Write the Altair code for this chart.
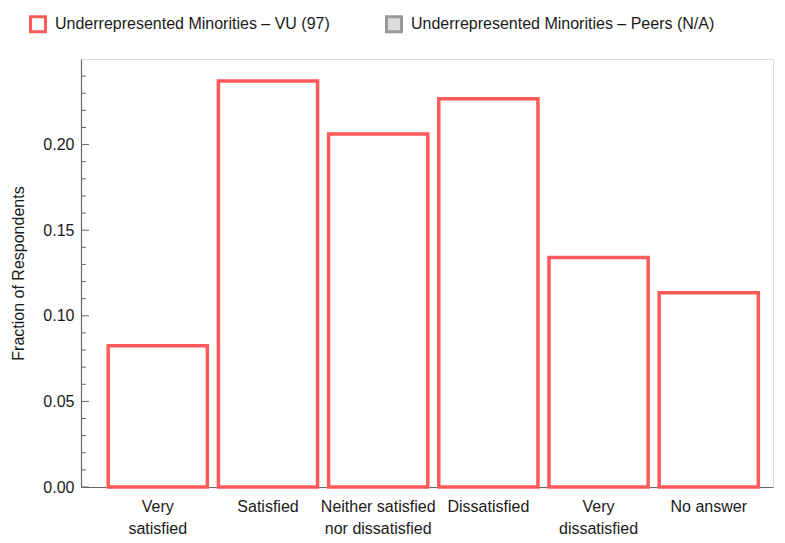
import altair as alt
import pandas as pd

categories = ["Very|satisfied", "Satisfied", "Neither satisfied|nor dissatisfied",
              "Dissatisfied", "Very|dissatisfied", "No answer"]
vu_values = [0.0825, 0.2371, 0.2062, 0.2268, 0.1340, 0.1134]
series_names = ["Underrepresented Minorities \u2013 VU (97)",
                "Underrepresented Minorities \u2013 Peers (N/A)"]
y_major = [0.0, 0.05, 0.10, 0.15, 0.20]
y_minor = [0.01, 0.02, 0.03, 0.04, 0.06, 0.07, 0.08, 0.09, 0.11, 0.12, 0.13, 0.14,
           0.16, 0.17, 0.18, 0.19, 0.21, 0.22, 0.23, 0.24]

W, H = 692, 428
RED = "#ff5a5a"
FONT = "Liberation Sans"
FS = 16

bars_df = pd.DataFrame({"cat": categories, "val": vu_values, "series": series_names[0]})
major_df = pd.DataFrame({"v": y_major})
minor_df = pd.DataFrame({"v": y_minor})

xscale = alt.Scale(domain=categories, paddingInner=0.1, paddingOuter=0.19, align=0.65)
yscale = alt.Scale(domain=[0, 0.25], nice=False, zero=True)

bars = alt.Chart(bars_df).mark_bar(strokeWidth=3.5).encode(
    x=alt.X("cat:N", scale=xscale, sort=categories,
            axis=alt.Axis(title=None, labelAngle=0, labelAlign="center", labelBaseline="top",
                          ticks=False, labelPadding=11,
                          labelExpr="split(datum.label, '|')", labelLineHeight=22,
                          labelFontSize=FS, labelFont=FONT, labelColor="#1a1a1a",
                          domainColor="#666666", domainWidth=1.2, labelLimit=220,
                          labelOverlap=False, labelBound=False)),
    y=alt.Y("val:Q", scale=yscale,
            axis=alt.Axis(title="Fraction of Respondents", values=y_major, format=".2f",
                          ticks=False, labelPadding=7, labelFontSize=FS, labelFont=FONT,
                          labelColor="#1a1a1a", titleFontSize=FS, titleFont=FONT,
                          titleFontWeight="normal", titleColor="#1a1a1a", titlePadding=16,
                          domainColor="#666666", domainWidth=1.2, grid=False)),
    fill=alt.Fill("series:N", scale=alt.Scale(domain=series_names, range=["white", "#dddddd"]),
                  legend=alt.Legend(title=None, orient="none", legendX=-52, legendY=-44,
                                    direction="horizontal", symbolType="square",
                                    symbolSize=225, symbolStrokeWidth=3, labelFontSize=FS,
                                    labelFont=FONT, labelColor="#1a1a1a", labelOffset=8,
                                    columnPadding=50, labelLimit=400)),
    stroke=alt.Stroke("series:N", scale=alt.Scale(domain=series_names, range=[RED, "#999999"]),
                      legend=None),
)

major_ticks = alt.Chart(major_df).mark_rule(color="#666666", strokeWidth=1).encode(
    y=alt.Y("v:Q", scale=yscale), x=alt.value(0), x2=alt.value(8))
minor_ticks = alt.Chart(minor_df).mark_rule(color="#666666", strokeWidth=1).encode(
    y=alt.Y("v:Q", scale=yscale), x=alt.value(0), x2=alt.value(5))
x_ticks = alt.Chart(bars_df).mark_rule(color="#444444", strokeWidth=1).encode(
    x=alt.X("cat:N", scale=xscale, sort=categories), y=alt.value(H), y2=alt.value(H - 4))

chart = alt.layer(major_ticks, minor_ticks, x_ticks, bars).properties(
    width=W, height=H,
    autosize=alt.AutoSizeParams(type="none"),
    padding={"left": 73, "top": 51, "right": 4, "bottom": 48},
).configure_view(stroke=None).configure(background="white")

chart.save("out.html", embed_options={"renderer": "svg", "actions": False})
